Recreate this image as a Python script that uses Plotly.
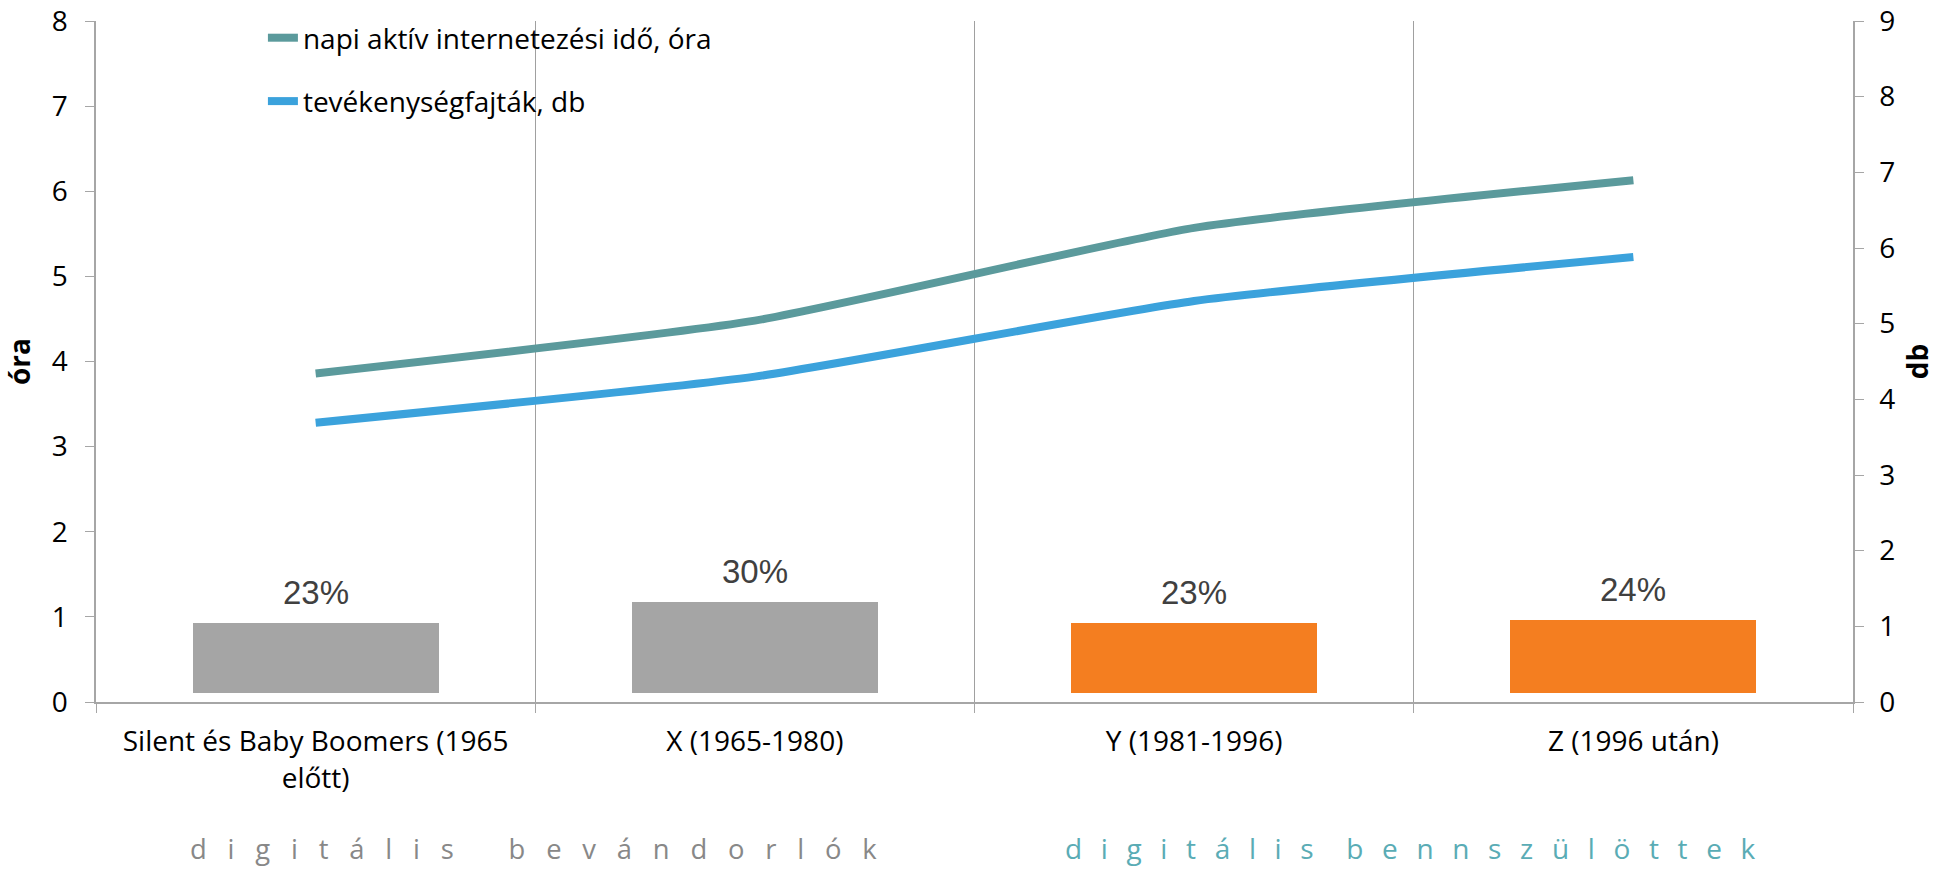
import plotly.graph_objects as go

categories = ["Silent és Baby Boomers (1965<br>előtt)", "X (1965-1980)", "Y (1981-1996)", "Z (1996 után)"]
napi_ido = [3.86, 4.48, 5.57, 6.13]          # óra (left axis)
tevekenyseg = [3.69, 4.30, 5.30, 5.88]       # db (right axis)
share_pct = [23, 30, 23, 24]                 # bars (%)
bar_colors = ["#A5A5A5", "#A5A5A5", "#F47E20", "#F47E20"]
left_ticks = list(range(0, 9))
right_ticks = list(range(0, 10))
group_labels = [["digitális", "bevándorlók"], ["digitális", "bennszülöttek"]]

xpos = list(range(len(categories)))
FONT = "Open Sans"
FS = 28

W, H = 1946, 873
# plot area in page pixels: left 96, right 1853, top 21, bottom 702.5
ml = 96
mt = 21
mr = W - 1853
mb = H - 702.5
pw, ph = W - ml - mr, H - mt - mb


def page_to_paper(xp, yp):
    return (xp - ml) / pw, (H - mb - yp) / ph


fig = go.Figure()

fig.add_trace(go.Bar(
    x=xpos, y=share_pct, yaxis="y3", width=0.56,
    marker=dict(color=bar_colors, line=dict(width=0)),
    showlegend=False, hoverinfo="skip",
))

fig.add_trace(go.Scatter(
    x=xpos, y=napi_ido, mode="lines", yaxis="y",
    name="napi aktív internetezési idő, óra",
    line=dict(color="#5B9A9C", width=8, shape="spline", smoothing=0.5),
    legendgroup="a",
))
fig.add_trace(go.Scatter(
    x=xpos, y=tevekenyseg, mode="lines", yaxis="y2",
    name="tevékenységfajták, db",
    line=dict(color="#3BA2DC", width=8, shape="spline", smoothing=0.5),
    legendgroup="b",
))

for xi, v in zip(xpos, share_pct):
    fig.add_annotation(x=xi, y=v, xref="x", yref="y3", text=f"{v}%",
                       showarrow=False, yanchor="bottom", yshift=10,
                       font=dict(family="Liberation Sans, Arial", size=33, color="#404040"))


def spaced(words, sep, wsep):
    return wsep.join(sep.join(list(w)) for w in words)


txt1 = spaced(group_labels[0], "\u2002\u00a0", "\u2003\u2003")
txt2 = spaced(group_labels[1], "\u2002\u2009", "\u2003\u2009")

x1, y1 = page_to_paper(533, 870)
x2, y2 = page_to_paper(1410, 870)
fig.add_annotation(x=x1, y=y1, xref="paper", yref="paper", text=txt1, showarrow=False,
                   xanchor="center", yanchor="bottom",
                   font=dict(family=FONT, size=27.4, color="#888888"))
fig.add_annotation(x=x2, y=y2, xref="paper", yref="paper", text=txt2, showarrow=False,
                   xanchor="center", yanchor="bottom",
                   font=dict(family=FONT, size=28, color="#5AACB5"))

axis_gray = "#A6A6A6"
lx, ly = page_to_paper(96 + 0.095 * 1757, 13)
fig.update_layout(
    width=W, height=H,
    margin=dict(l=ml, r=mr, t=mt, b=mb, autoexpand=False),
    paper_bgcolor="white", plot_bgcolor="white",
    font=dict(family=FONT, size=FS, color="#000000"),
    bargap=0,
    xaxis=dict(
        range=[-0.5, 3.5], tickmode="array", tickvals=xpos, ticktext=categories,
        ticks="", showgrid=False, zeroline=False, automargin=False,
        showline=True, linecolor=axis_gray, linewidth=1.5,
        tickfont=dict(family=FONT, size=FS, color="#000"),
        ticklabelstandoff=14, ticklabeloverflow="allow",
        minor=dict(tickmode="array", tickvals=[-0.5, 0.5, 1.5, 2.5, 3.5],
                   ticks="outside", ticklen=9, tickcolor=axis_gray, tickwidth=1,
                   showgrid=True, gridcolor="#A0A0A0", gridwidth=1),
        fixedrange=True,
    ),
    yaxis=dict(
        range=[0, 8], tickmode="array", tickvals=left_ticks, automargin=False,
        showgrid=False, zeroline=False, showline=True, linecolor=axis_gray, linewidth=1.5,
        ticks="outside", ticklen=9, tickcolor=axis_gray, ticklabelstandoff=12,
        ticklabeloverflow="allow",
        title=dict(text="<b>óra</b>", font=dict(family=FONT, size=FS, color="#000"), standoff=30),
        tickfont=dict(family=FONT, size=FS, color="#000"),
    ),
    yaxis2=dict(
        range=[0, 9], tickmode="array", tickvals=right_ticks, overlaying="y", side="right",
        automargin=False,
        showgrid=False, zeroline=False, showline=True, linecolor=axis_gray, linewidth=1.5,
        ticks="outside", ticklen=9, tickcolor=axis_gray, ticklabelstandoff=10,
        ticklabeloverflow="allow",
        title=dict(text="<b>db</b>", font=dict(family=FONT, size=FS, color="#000"), standoff=14),
        tickfont=dict(family=FONT, size=FS, color="#000"),
    ),
    yaxis3=dict(
        range=[-2.86, 221.2], overlaying="y", visible=False,
    ),
    legend=dict(
        x=lx, y=ly, xanchor="left", yanchor="top",
        bgcolor="rgba(0,0,0,0)", font=dict(family=FONT, size=FS, color="#000"),
        tracegroupgap=24, traceorder="grouped",
    ),
)

fig.write_html(
    "out.html",
    config={"displayModeBar": False},
    post_script="document.body.style.margin='0';document.body.style.overflow='hidden';",
)
